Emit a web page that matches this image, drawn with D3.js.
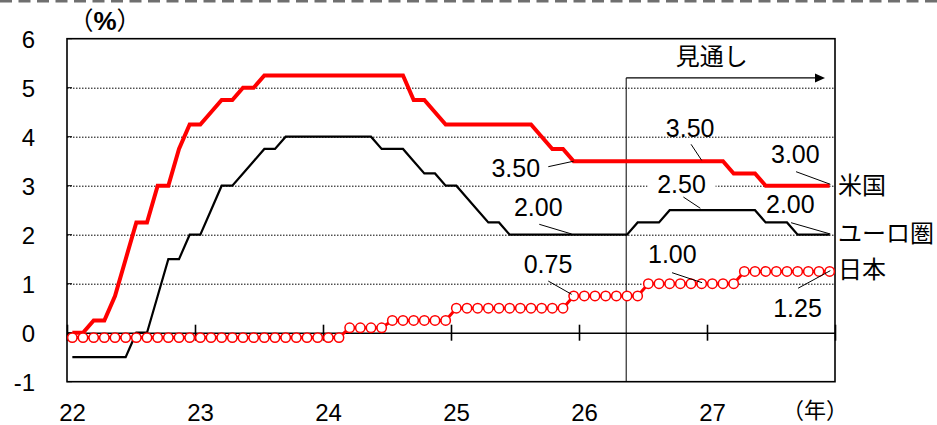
<!DOCTYPE html>
<html><head><meta charset="utf-8">
<script src="https://cdn.jsdelivr.net/npm/d3@7/dist/d3.min.js"></script>
<style>body{margin:0;background:#fff}svg{display:block}</style>
</head><body><svg id="c" width="937" height="425"></svg>
<script>
// ---- data ----
const yearLabels = ["22","23","24","25","26","27"];
const yTickValues = [-1,0,1,2,3,4,5,6];
const seriesNames = ["米国","ユーロ圏","日本"];
// monthly, Jan 2022 .. Dec 2027
const usRate = [
  0,0,0.25,0.25,0.75,1.5,2.25,2.25,3,3,3.75,4.25,
  4.25,4.5,4.75,4.75,5,5,5.25,5.25,5.25,5.25,5.25,5.25,
  5.25,5.25,5.25,5.25,5.25,5.25,5.25,5.25,4.75,4.75,4.5,4.25,
  4.25,4.25,4.25,4.25,4.25,4.25,4.25,4.25,4,3.75,3.75,3.5,
  3.5,3.5,3.5,3.5,3.5,3.5,3.5,3.5,3.5,3.5,3.5,3.5,
  3.5,3.5,3.25,3.25,3.25,3,3,3,3,3,3,3];
const euroRate = [
  -0.5,-0.5,-0.5,-0.5,-0.5,-0.5,0,0,0.75,1.5,1.5,2,
  2,2.5,3,3,3.25,3.5,3.75,3.75,4,4,4,4,
  4,4,4,4,4,3.75,3.75,3.75,3.5,3.25,3.25,3,
  3,2.75,2.5,2.25,2.25,2,2,2,2,2,2,2,
  2,2,2,2,2,2.25,2.25,2.25,2.5,2.5,2.5,2.5,
  2.5,2.5,2.5,2.5,2.5,2.25,2.25,2.25,2,2,2,2];
const japanRate = [
  -0.1,-0.1,-0.1,-0.1,-0.1,-0.1,-0.1,-0.1,-0.1,-0.1,-0.1,-0.1,
  -0.1,-0.1,-0.1,-0.1,-0.1,-0.1,-0.1,-0.1,-0.1,-0.1,-0.1,-0.1,
  -0.1,-0.1,0.1,0.1,0.1,0.1,0.25,0.25,0.25,0.25,0.25,0.25,
  0.5,0.5,0.5,0.5,0.5,0.5,0.5,0.5,0.5,0.5,0.5,0.75,
  0.75,0.75,0.75,0.75,0.75,0.75,1,1,1,1,1,1,
  1,1,1,1.25,1.25,1.25,1.25,1.25,1.25,1.25,1.25,1.25];
const forecastStartIndex = 52;
const forecastLabel = "見通し";
const annotationSeries = ["us","euro","japan","us","us","euro","euro","japan","japan"];
const annotationIndex  = [47,47,47,59,71,59,71,59,71];
const annotationText   = ["3.50","2.00","0.75","3.50","3.00","2.50","2.00","1.00","1.25"];

// ---- layout (pixels) ----
const annotationLayout = [
  {tx:-57.9,ty:15.5, lx:-25.4,ly:5.5, ex:0,ey:0},
  {tx:-35.4,ty:-18.7, lx:-34.4,ly:-10.4, ex:-2,ey:-0.7},
  {tx:-25.7,ty:-22.6, lx:-25.4,ly:-14.9, ex:-2,ey:-1.6},
  {tx:-11.5,ty:-24.5, lx:-10.6,ly:-16.9, ex:0,ey:-0.9},
  {tx:-34.3,ty:-22.4, lx:-33.6,ly:-14, ex:0.7,ey:-1.4},
  {tx:-20.1,ty:-17.5, lx:-18.3,ly:-13.2, ex:-1.3,ey:-1.9, bg:true},
  {tx:-39.3,ty:-21.4, lx:-38.6,ly:-12, ex:0.7,ey:-0.7},
  {tx:-29.3,ty:-20.4, lx:-29.6,ly:-11, ex:0.4,ey:-1},
  {tx:-32.1,ty:45.2, lx:-31.6,ly:16.8, ex:0.7,ey:-0.8}
];

const L = 67, R = 835, T = 38.7, B = 381.7;
const RED = "#ff0000";
const numFont = "'Liberation Sans', Arial, sans-serif";
const jpFont = "'Noto Sans CJK JP', sans-serif";

const svg = d3.select("#c");
const nMonths = usRate.length;
const x = d3.scaleLinear().domain([0, nMonths]).range([L, R]);
const y = d3.scaleLinear().domain([-1, 6]).range([B, T]);
const px = i => x(i + 0.5);

// top dashed separator
svg.append("line").attr("x1",0).attr("x2",937).attr("y1",1.2).attr("y2",1.2)
  .attr("stroke","#6f6f6f").attr("stroke-width",2.4).attr("stroke-dasharray","12,6.5");

// gridlines
svg.append("g").selectAll("line").data(yTickValues.filter(v => v > -1 && v < 6 && v !== 0))
  .join("line").attr("x1",L).attr("x2",R).attr("y1",d=>y(d)+0.5).attr("y2",d=>y(d)+0.5)
  .attr("stroke","#000").attr("stroke-width",1).attr("stroke-dasharray","1.5,1.5");

// y axis
const yAxis = d3.axisLeft(y).tickValues(yTickValues).tickSize(0).tickPadding(0).tickFormat(d => String(d));
const gy = svg.append("g").attr("transform",`translate(35,0)`).call(yAxis);
gy.select(".domain").remove();
gy.selectAll("text").attr("font-family",numFont).attr("font-size",24).attr("fill","#000").attr("dy","0.35em");
// inner ticks on left axis
svg.append("g").selectAll("line").data(yTickValues).join("line")
  .attr("x1",L).attr("x2",L+5).attr("y1",d=>y(d)).attr("y2",d=>y(d))
  .attr("stroke","#000").attr("stroke-width",1);

// frame
svg.append("rect").attr("x",L).attr("y",T).attr("width",R-L).attr("height",B-T)
  .attr("fill","none").attr("stroke","#000").attr("stroke-width",1.6);

// zero axis with crossing ticks
const yearTickIdx = d3.range(0, nMonths + 1, 12);
const xAxisZero = d3.axisBottom(x).tickValues(yearTickIdx).tickSizeInner(8).tickSizeOuter(0).tickFormat("");
const gz = svg.append("g").attr("transform",`translate(0,${y(0)})`).call(xAxisZero);
gz.select(".domain").attr("stroke-width",1.6);
gz.selectAll(".tick line").attr("y1",-8).attr("y2",8).attr("stroke-width",1.6);

// year labels
const xLab = d3.axisBottom(x).tickValues(yearTickIdx.slice(0, yearLabels.length))
  .tickSize(0).tickPadding(0).tickFormat((d,i)=>yearLabels[i]);
const gx = svg.append("g").attr("transform",`translate(5,${B})`).call(xLab);
gx.select(".domain").remove();
gx.selectAll("text").attr("font-family",numFont).attr("font-size",24).attr("fill","#000")
  .attr("dy",0).attr("y",39);

// units
const pct = svg.append("text").attr("x",105).attr("y",30).attr("text-anchor","middle")
  .attr("font-family",jpFont).attr("font-size",25);
pct.append("tspan").text("（");
pct.append("tspan").attr("font-family",numFont).attr("font-weight","bold").attr("font-size",26).text("%");
pct.append("tspan").text("）");
svg.append("text").attr("x",815).attr("y",418).attr("text-anchor","middle")
  .attr("font-family",jpFont).attr("font-size",22).text("（年）");

// forecast marker
const fx = px(forecastStartIndex) - 0.8;
const arrowY = y(5.2);
svg.append("line").attr("x1",fx).attr("x2",fx).attr("y1",arrowY).attr("y2",B)
  .attr("stroke","#000").attr("stroke-width",1);
const arrowEnd = x(nMonths) - 10;
svg.append("line").attr("x1",fx).attr("x2",arrowEnd-9).attr("y1",arrowY).attr("y2",arrowY)
  .attr("stroke","#000").attr("stroke-width",1.3);
svg.append("path").attr("d",`M${arrowEnd},${arrowY} L${arrowEnd-10},${arrowY-4.5} L${arrowEnd-10},${arrowY+4.5} Z`).attr("fill","#000");
svg.append("text").attr("x",px(60)-0.5).attr("y",65).attr("text-anchor","middle")
  .attr("font-family",jpFont).attr("font-size",24).text(forecastLabel);

// series
const line = d3.line().x((d,i)=>px(i)).y(d=>y(d));
svg.append("path").datum(euroRate).attr("d",line).attr("fill","none")
  .attr("stroke","#000").attr("stroke-width",2.2).attr("stroke-linejoin","miter");
svg.append("path").datum(usRate).attr("d",line).attr("fill","none")
  .attr("stroke",RED).attr("stroke-width",4).attr("stroke-linejoin","miter");
svg.append("path").datum(japanRate).attr("d",line).attr("fill","none")
  .attr("stroke",RED).attr("stroke-width",3);
svg.append("g").selectAll("circle").data(japanRate).join("circle")
  .attr("cx",(d,i)=>px(i)).attr("cy",d=>y(d)).attr("r",4.7)
  .attr("fill","#fff").attr("stroke",RED).attr("stroke-width",1.5);

// series labels
const labelY = [y(3), y(2) - 1.5, y(1.25) - 2];
svg.append("g").selectAll("text").data(seriesNames).join("text")
  .attr("x",838).attr("y",(d,i)=>labelY[i]).attr("dy","0.36em")
  .attr("font-family",jpFont).attr("font-size",24).attr("fill","#000").text(d=>d);

// annotations
const seriesMap = {us:usRate, euro:euroRate, japan:japanRate};
const ag = svg.append("g");
annotationText.forEach((t,k)=>{
  const s = seriesMap[annotationSeries[k]], i = annotationIndex[k], lay = annotationLayout[k];
  const ptx = px(i), pty = y(s[i]);
  ag.append("line").attr("x1",ptx+lay.lx).attr("y1",pty+lay.ly)
    .attr("x2",ptx+lay.ex).attr("y2",pty+lay.ey).attr("stroke","#000").attr("stroke-width",1);
  if (lay.bg) {
    ag.append("rect").attr("x",ptx+lay.tx-34).attr("y",pty+lay.ty-22).attr("width",68).attr("height",24).attr("fill","#fff");
  }
  ag.append("text").attr("x",ptx+lay.tx).attr("y",pty+lay.ty).attr("text-anchor","middle")
    .attr("font-family",numFont).attr("font-size",25).attr("fill","#000").text(t);
});
</script></body></html>
